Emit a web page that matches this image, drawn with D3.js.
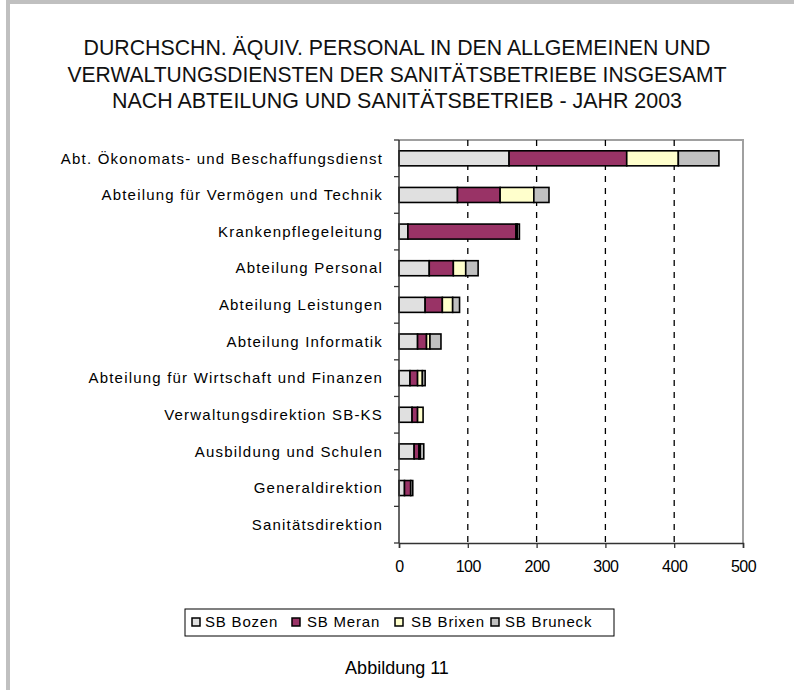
<!DOCTYPE html>
<html><head><meta charset="utf-8">
<script src="https://cdn.jsdelivr.net/npm/d3@7"></script>
<style>body{margin:0;background:#fff}svg{display:block}</style>
</head><body>
<script>
const categories = ["Abt. Ökonomats- und Beschaffungsdienst","Abteilung für Vermögen und Technik","Krankenpflegeleitung","Abteilung Personal","Abteilung Leistungen","Abteilung Informatik","Abteilung für Wirtschaft und Finanzen","Verwaltungsdirektion SB-KS","Ausbildung und Schulen","Generaldirektion","Sanitätsdirektion"];
const seriesNames = ["SB Bozen","SB Meran","SB Brixen","SB Bruneck"];
const bozen   = [160, 85, 13, 44, 38, 27, 16, 19, 22, 8, 0];
const meran   = [171, 62, 157, 35, 25, 13, 11, 8, 7, 9, 0];
const brixen  = [75, 49, 2, 18, 15, 5, 7, 8, 2, 0, 0];
const bruneck = [59, 22, 3, 18, 10, 16, 4, 0, 5, 3, 0];
const xTicks = [0,100,200,300,400,500];
const titleLines = ["DURCHSCHN. ÄQUIV. PERSONAL IN DEN ALLGEMEINEN UND","VERWALTUNGSDIENSTEN DER SANITÄTSBETRIEBE INSGESAMT","NACH ABTEILUNG UND SANITÄTSBETRIEB - JAHR 2003"];
const caption = "Abbildung 11";
const colors = ["#e0e0e0","#993366","#ffffcc","#c0c0c0"];

const W=794,H=690;
const svg=d3.select("body").append("svg").attr("width",W).attr("height",H);
svg.append("rect").attr("width",W).attr("height",H).attr("fill","#fff");
svg.append("rect").attr("x",8).attr("y",2).attr("width",W+20).attr("height",H+20)
  .attr("fill","none").attr("stroke","#c0c0c0").attr("stroke-width",4);

const font="'Liberation Sans', Arial, sans-serif";
const titleLens=[627,659,570];
svg.append("g").selectAll("text").data(titleLines).join("text")
  .attr("x",397).attr("y",(d,i)=>55+i*26.5).attr("text-anchor","middle")
  .attr("font-family",font).attr("font-size",22).attr("fill","#111")
  .attr("textLength",(d,i)=>titleLens[i]).attr("lengthAdjust","spacingAndGlyphs").text(d=>d);

const L=399,R=743,T=140,B=543;
const x=d3.scaleLinear().domain([0,500]).range([L,R]);
const y=d3.scaleBand().domain(categories).range([T,B]).paddingInner(0.59).paddingOuter(0.295);
const yb=d3.scaleBand().domain(categories).range([T,B]);

svg.append("path").attr("d",`M${L},${T}H${R}V${B}`).attr("fill","none").attr("stroke","#a0a0a0").attr("stroke-width",2);
svg.append("g").selectAll("line").data(xTicks.filter(t=>t>0&&t<500)).join("line")
  .attr("x1",d=>x(d)).attr("x2",d=>x(d)).attr("y1",T).attr("y2",B)
  .attr("stroke","#000").attr("stroke-width",1.3).attr("stroke-dasharray","6,6");

const series=[bozen,meran,brixen,bruneck];
const rows=categories.map((c,i)=>{const o={cat:c};seriesNames.forEach((s,j)=>o[s]=series[j][i]);return o;});
const stack=d3.stack().keys(seriesNames)(rows);
svg.append("g").selectAll("g").data(stack).join("g").attr("fill",(d,i)=>colors[i])
  .selectAll("rect").data(d=>d.filter(p=>p[1]-p[0]>0)).join("rect")
  .attr("x",d=>x(d[0])).attr("width",d=>x(d[1])-x(d[0]))
  .attr("y",d=>y(d.data.cat)).attr("height",y.bandwidth())
  .attr("stroke","#000").attr("stroke-width",1.6);

const xa=svg.append("g").attr("transform",`translate(0,${B})`)
  .call(d3.axisBottom(x).tickValues(xTicks).tickSize(5).tickPadding(13));
xa.select(".domain").attr("stroke","#333").attr("stroke-width",1.5);
xa.selectAll(".tick line").attr("stroke","#333").attr("stroke-width",1.3);
xa.selectAll("text").attr("font-family",font).attr("font-size",16).attr("letter-spacing",-0.5).attr("fill","#000");

svg.append("line").attr("x1",L).attr("x2",L).attr("y1",T).attr("y2",B).attr("stroke","#333").attr("stroke-width",1.5);
svg.append("g").selectAll("line").data(categories.concat(["_end"])).join("line")
  .attr("x1",L-5).attr("x2",L).attr("y1",(d,i)=>T+i*yb.step()).attr("y2",(d,i)=>T+i*yb.step())
  .attr("stroke","#333").attr("stroke-width",1.3);
svg.append("g").selectAll("text").data(categories).join("text")
  .attr("x",383).attr("y",d=>yb(d)+yb.bandwidth()/2).attr("dy","0.35em").attr("text-anchor","end")
  .attr("font-family",font).attr("font-size",15).attr("letter-spacing",1.2).attr("fill","#000").text(d=>d);

const lg=svg.append("g");
lg.append("rect").attr("x",185).attr("y",609).attr("width",429).attr("height",27).attr("fill","#fff").attr("stroke","#000").attr("stroke-width",1);
const lx=[192,292,395,491];
const ltx=[205,307,411,505];
seriesNames.forEach((s,i)=>{
  lg.append("rect").attr("x",lx[i]).attr("y",618).attr("width",8).attr("height",8).attr("fill",colors[i]).attr("stroke","#000").attr("stroke-width",1.5);
  lg.append("text").attr("x",ltx[i]).attr("y",622).attr("dy","0.35em").attr("font-family",font).attr("font-size",15).attr("letter-spacing",0.8).text(s);
});
svg.append("text").attr("x",397).attr("y",668).attr("dy","0.35em").attr("text-anchor","middle").attr("font-family",font).attr("font-size",18).text(caption);
</script>
</body></html>
